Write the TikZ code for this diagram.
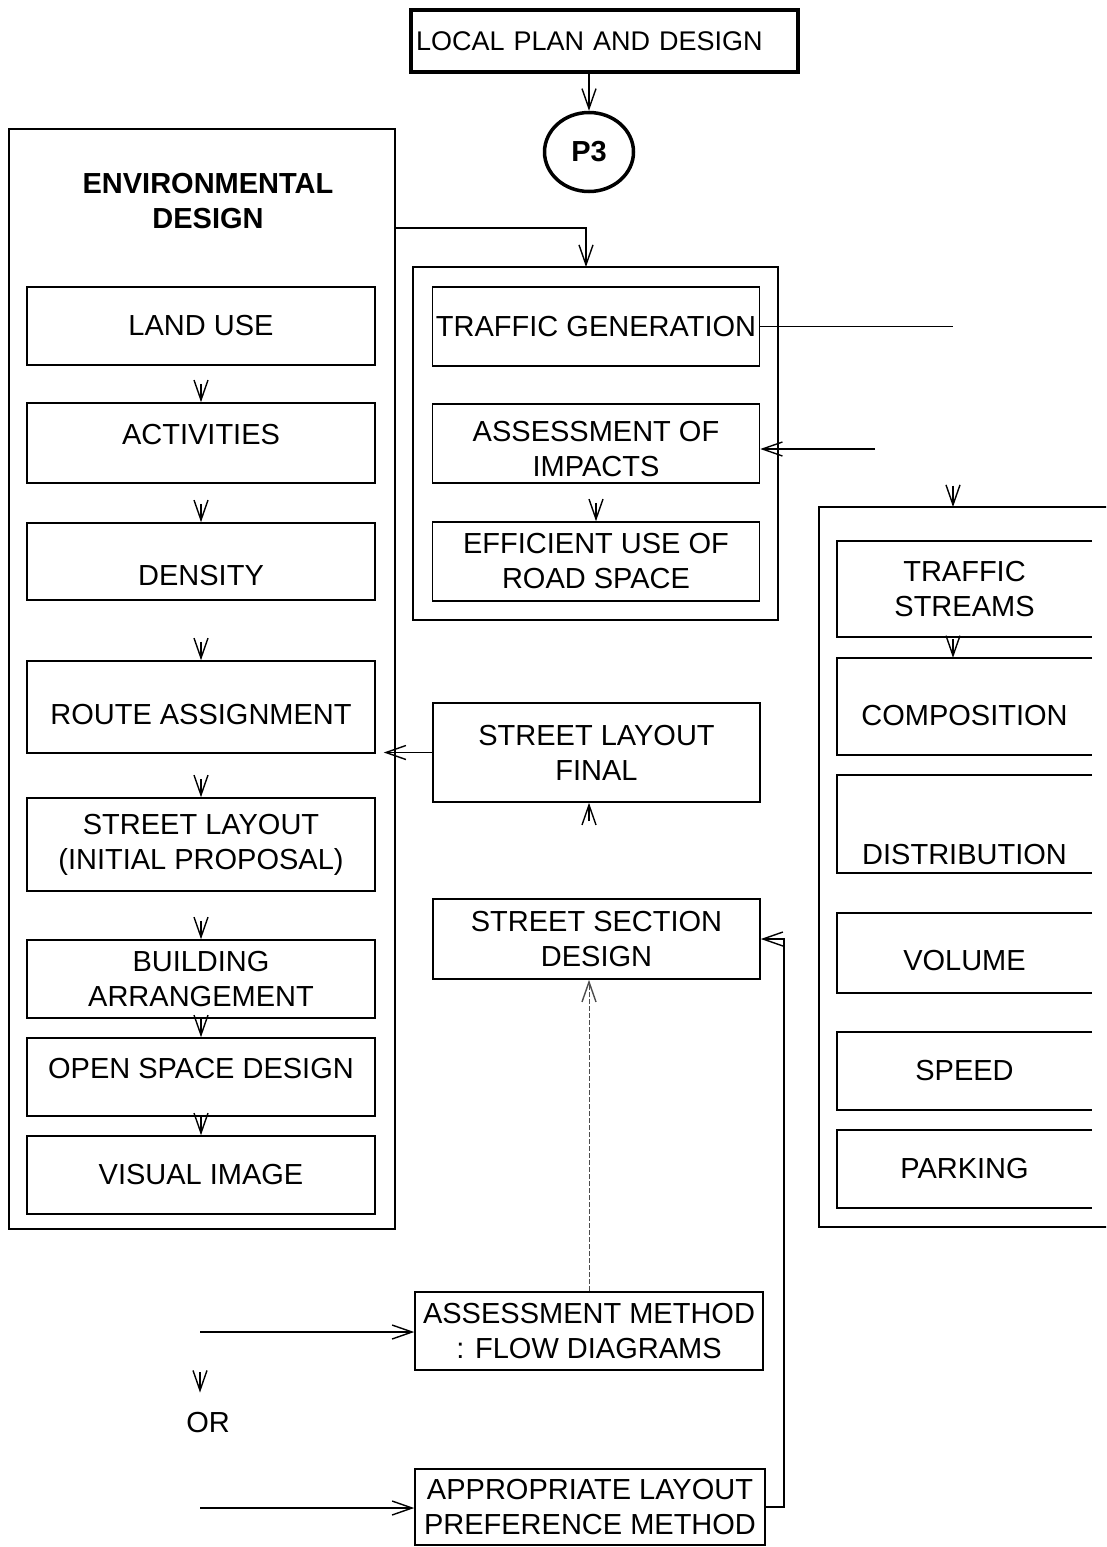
\documentclass[tikz,border=0pt]{standalone}
\usepackage{fontspec}
\setmainfont{Liberation Sans}
\usetikzlibrary{positioning,calc,arrows.meta,shapes.geometric}
\tikzset{font=\fontsize{29}{35}\selectfont}
\newcommand\txtdown[2]{\raisebox{-#1pt}[\height][\depth]{#2}}

\begin{document}
\begin{tikzpicture}[x=1pt, y=-1pt]
	\tikzstyle{every node}=[align=center, inner sep=0pt]
	\tikzstyle{box}=[draw, line width=1.6pt]
	\tikzstyle{frame}=[draw, line width=1.4pt]
	\tikzstyle{line}=[line width=1.4pt]
	\tikzstyle{tip}=[line width=1.4pt, -{Straight Barb[length=20pt, width=14pt, line width=1.4pt]}]
	\tikzstyle{faint}=[line width=0.8pt, black!70, dash pattern=on 5pt off 2pt]
	\tikzstyle{lbox}=[box, minimum width=348pt]
	\tikzstyle{mbox}=[box, minimum width=327pt]
	\tikzstyle{rbox}=[minimum width=255pt]

	\useasboundingbox (0,0) rectangle (1106,1547);
	\clip (0,0) rectangle (1106,1547);

	% top of the plan
	\node[box, line width=4.5pt, minimum width=387pt, minimum height=62pt, text width=377pt, align=left, font=\fontsize{27}{32}\selectfont] (localplan) at (604.5,41) {LOCAL PLAN AND DESIGN};
	\node[draw, ellipse, line width=3.5pt, minimum width=89pt, minimum height=79pt, font=\bfseries\fontsize{29}{35}\selectfont] (p3) at (589,152) {P3};

	% environmental design
	\node[frame, minimum width=386pt, minimum height=1100pt] (envbox) at (202,679) {};
	\node[font=\bfseries\fontsize{29}{35}\selectfont] (envtitle) at (208,201.5) {ENVIRONMENTAL\\DESIGN};
	\node[lbox, minimum height=78pt] (landuse) at (201,326) {LAND USE};
	\node[lbox, minimum height=80pt] (activities) at (201,443) {\txtdown{-8}{ACTIVITIES}};
	\node[lbox, minimum height=77pt] (density) at (201,561.5) {\txtdown{14}{DENSITY}};
	\node[lbox, minimum height=92pt] (route) at (201,707) {\txtdown{8}{ROUTE ASSIGNMENT}};
	\node[lbox, minimum height=93pt] (initial) at (201,844.5) {STREET LAYOUT\\(INITIAL PROPOSAL)};
	\node[lbox, minimum height=78pt] (building) at (201,979) {BUILDING\\ARRANGEMENT};
	\node[lbox, minimum height=78pt] (openspace) at (201,1077) {\txtdown{-8}{OPEN SPACE DESIGN}};
	\node[lbox, minimum height=78pt] (visual) at (201,1175) {VISUAL IMAGE};

	% traffic side
	\node[frame, minimum width=365pt, minimum height=353pt] (midbox) at (595.5,443.5) {};
	\coordinate (midin) at (586,267);
	\node[mbox, minimum height=79pt] (trafgen) at (596,326.5) {TRAFFIC GENERATION};
	\node[mbox, minimum height=79pt] (impacts) at (596,443.5) {\txtdown{8}{\begin{tabular}{@{}c@{}}ASSESSMENT OF\\IMPACTS\end{tabular}}};
	\node[mbox, minimum height=79pt] (roadspace) at (596,561.5) {EFFICIENT USE OF\\ROAD SPACE};
	\node[mbox, minimum height=99pt] (final) at (596.5,752.5) {STREET LAYOUT\\FINAL};
	\node[mbox, minimum height=80pt] (section) at (596.5,939) {STREET SECTION\\DESIGN};
	\node[box, minimum width=348pt, minimum height=78pt] (flowdiag) at (589,1331) {ASSESSMENT METHOD\\: FLOW DIAGRAMS};
	\node[box, minimum width=350pt, minimum height=76pt] (appropriate) at (590,1507) {APPROPRIATE LAYOUT\\PREFERENCE METHOD};
	\coordinate (flowin) at (200,1332);
	\coordinate (aplin) at (200,1508);
	\node (ornode) at (208,1422) {OR};

	% traffic streams
	\node[frame, minimum width=381pt, minimum height=720pt] (rightbox) at (1009.5,867) {};
	\coordinate (rtop) at (953,507);
	\coordinate (impsrc) at (875,449);
	\node[rbox, minimum height=96pt] (streams) at (964.5,589) {TRAFFIC\\STREAMS};
	\node[rbox, minimum height=97pt] (composition) at (964.5,706.5) {\txtdown{9}{COMPOSITION}};
	\node[rbox, minimum height=98pt] (distribution) at (964.5,824) {\txtdown{31}{DISTRIBUTION}};
	\node[rbox, minimum height=80pt] (volume) at (964.5,953) {\txtdown{8}{VOLUME}};
	\node[rbox, minimum height=78pt] (speed) at (964.5,1071) {SPEED};
	\node[rbox, minimum height=78pt] (parking) at (964.5,1169) {PARKING};
	\foreach \n in {streams,composition,distribution,volume,speed,parking}
		\draw[box] (\n.north east) -- (\n.north west) -- (\n.south west) -- (\n.south east);

	% connectors
	\draw[tip] (localplan.south -| p3) -- (p3);
	\draw[tip] (envbox.east |- 0,228) -| (midin);
	\foreach \a/\b/\s in {landuse/activities/18pt, activities/density/20pt, density/route/41pt, route/initial/25pt, initial/building/29pt, building/openspace/0pt, openspace/visual/0pt}
		\draw[tip, shorten <=\s] (\a) -- (\b);
	\draw[tip, shorten <=19pt] (impacts) -- (roadspace);
	\draw[line] (trafgen.east) -- (trafgen.east -| rtop);
	\draw[tip, shorten <=159pt] (trafgen.east -| rtop) -- (rtop);
	\draw[tip] (impsrc) -- (impsrc -| impacts.east);
	\draw[tip, shorten <=2pt] (streams.south -| rtop) -- (composition.north -| rtop);
	\draw[tip, shorten >=8pt] (final.west) -- (final.west -| route.east);
	\draw[tip, shorten <=77pt] (section.north -| flowdiag) -- (final.south -| flowdiag);
	\draw[tip, faint] (flowdiag) -- (flowdiag |- section.south);
	\draw[tip] (appropriate.east) -- ++(18,0) |- (section.east);
	\draw[tip] (flowin) -- (flowin -| flowdiag.west);
	\draw[tip] (aplin) -- (aplin -| appropriate.west);
	\draw[tip, shorten <=40pt, shorten >=19pt] (flowin) -- (flowin |- ornode.north);
\end{tikzpicture}
\end{document}
